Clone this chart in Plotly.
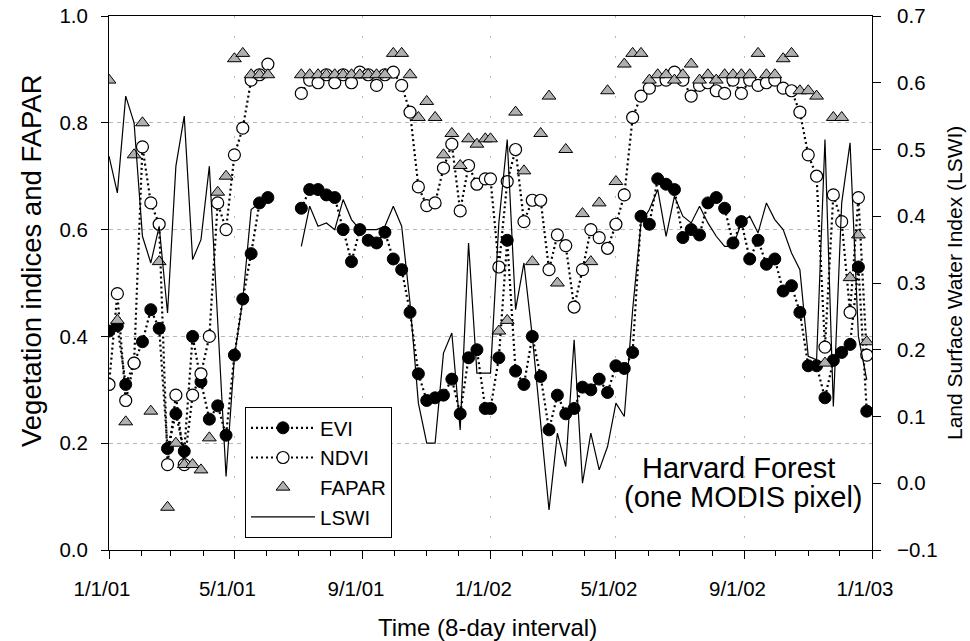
import plotly.graph_objects as go
import pandas as pd

# 8-day MODIS composites, 46 per year
dates01 = pd.date_range("2001-01-01", periods=46, freq="8D")
dates02 = pd.date_range("2002-01-01", periods=46, freq="8D")
dates = list(dates01) + list(dates02)

evi_2001 = [0.41, 0.42, 0.31, 0.35, 0.39, 0.45, 0.415, 0.19, 0.255, 0.185,
            0.40, 0.315, 0.245, 0.27, 0.215, 0.365, 0.47, 0.555, 0.65, 0.66,
            None, None, None, 0.64, 0.675, 0.675, 0.665, 0.66, 0.60, 0.54,
            0.60, 0.58, 0.575, 0.595, 0.545, 0.525, 0.445, 0.33, 0.28, 0.285,
            0.29, 0.32, 0.255, 0.36, 0.375, 0.265]
evi_2002 = [0.265, 0.36, 0.58, 0.335, 0.31, 0.40, 0.325, 0.225, 0.29, 0.255,
            0.265, 0.305, 0.30, 0.32, 0.295, 0.345, 0.34, 0.37, 0.625, 0.61,
            0.695, 0.685, 0.675, 0.585, 0.60, 0.59, 0.65, 0.66, 0.64, 0.575,
            0.615, 0.545, 0.58, 0.535, 0.545, 0.485, 0.495, 0.445, 0.345, 0.345,
            0.285, 0.355, 0.37, 0.385, 0.53, 0.26]

ndvi_2001 = [0.31, 0.48, 0.28, 0.35, 0.755, 0.65, 0.61, 0.16, 0.29, 0.16,
             0.29, 0.33, 0.40, 0.65, 0.60, 0.74, 0.79, 0.88, 0.89, 0.91,
             None, None, None, 0.855, 0.88, 0.875, 0.89, 0.875, 0.89, 0.875,
             0.895, 0.89, 0.87, 0.89, 0.895, 0.87, 0.82, 0.68, 0.645, 0.65,
             0.715, 0.76, 0.635, 0.72, 0.685, 0.695]
ndvi_2002 = [0.695, 0.53, 0.69, 0.75, 0.615, 0.655, 0.655, 0.525, 0.59, 0.57,
             0.455, 0.525, 0.60, 0.585, 0.565, 0.61, 0.665, 0.81, 0.85, 0.865,
             0.88, 0.88, 0.895, 0.88, 0.85, 0.87, 0.875, 0.86, 0.855, 0.88,
             0.855, 0.88, 0.87, 0.875, 0.88, 0.865, 0.86, 0.82, 0.74, 0.70,
             0.38, 0.665, 0.615, 0.445, 0.66, 0.365]

fapar_2001 = [0.88, 0.43, 0.24, 0.74, 0.80, 0.26, 0.54, 0.08, 0.20, 0.16,
              0.16, 0.15, 0.21, 0.67, 0.70, 0.92, 0.93, 0.89, 0.89, 0.89,
              None, None, None, 0.89, 0.89, 0.89, 0.89, 0.89, 0.89, 0.89,
              0.89, 0.89, 0.89, 0.89, 0.93, 0.93, 0.89, 0.81, 0.84, 0.81,
              0.74, 0.78, 0.72, 0.77, 0.76, 0.77]
fapar_2002 = [0.77, 0.41, 0.43, 0.82, 0.71, 0.54, 0.78, 0.85, 0.50, 0.75,
              None, 0.63, 0.54, 0.65, 0.86, 0.69, 0.91, 0.93, 0.93, 0.88,
              0.89, 0.89, 0.88, 0.89, 0.91, 0.88, 0.89, 0.88, 0.89, 0.89,
              0.89, 0.89, 0.93, 0.89, 0.89, 0.92, 0.93, 0.86, 0.86, 0.85,
              0.35, 0.81, 0.81, 0.51, 0.59, 0.39]

lswi_2001 = [0.49, 0.435, 0.58, 0.54, 0.37, 0.33, 0.385, 0.255, 0.475, 0.55,
             0.335, 0.365, 0.475, 0.24, 0.01, 0.19, 0.275, 0.41, 0.42, 0.43,
             None, None, None, 0.355, 0.415, 0.385, 0.39, 0.38, 0.425, 0.395,
             0.38, 0.38, 0.38, 0.385, 0.415, 0.385, 0.27, 0.12, 0.06, 0.06,
             0.195, 0.225, 0.08, 0.36, 0.165, 0.165]
lswi_2002 = [0.165, 0.39, 0.515, 0.26, 0.33, 0.22, 0.095, -0.04, 0.075, 0.025,
             0.215, 0.0, 0.075, 0.02, 0.055, 0.12, 0.10, 0.26, 0.39, 0.41,
             0.44, 0.37, 0.43, 0.40, 0.39, 0.415, 0.39, 0.37, 0.355, 0.355,
             0.39, 0.40, 0.375, 0.42, 0.395, 0.38, 0.345, 0.32, 0.19, 0.185,
             0.515, 0.115, 0.42, 0.51, 0.22, 0.155]

FONT = "Arial, Liberation Sans, sans-serif"

# plot box in page pixels
X0, X1, Y0, Y1 = 109, 872, 16, 550


def px(x):
    return (x - X0) / (X1 - X0)


def py(y):
    return (Y1 - y) / (Y1 - Y0)


fig = go.Figure()
fig.add_trace(go.Scatter(
    x=dates, y=evi_2001 + evi_2002, name="EVI", mode="lines+markers",
    line=dict(color="black", width=2.2, dash="2px,3px"),
    marker=dict(symbol="circle", size=12, color="black", line=dict(color="black", width=1)),
))
fig.add_trace(go.Scatter(
    x=dates, y=ndvi_2001 + ndvi_2002, name="NDVI", mode="lines+markers",
    line=dict(color="black", width=2.2, dash="2px,3px"),
    marker=dict(symbol="circle", size=12, color="white", line=dict(color="black", width=1.2)),
))
fig.add_trace(go.Scatter(
    x=dates, y=fapar_2001 + fapar_2002, name="FAPAR", mode="markers",
    marker=dict(symbol="triangle-up", size=12, color="#b0b0b0", line=dict(color="black", width=1)),
))
fig.add_trace(go.Scatter(
    x=dates, y=lswi_2001 + lswi_2002, name="LSWI", mode="lines", yaxis="y2",
    line=dict(color="black", width=1.2),
))

def label(text, x, y, size, angle=0):
    fig.add_annotation(text=text, x=px(x), y=py(y), xref="paper", yref="paper",
                       xanchor="center", yanchor="middle", showarrow=False,
                       textangle=angle, font=dict(family=FONT, size=size, color="black"))

label("Harvard Forest", 738, 468, 29)
label("(one MODIS pixel)", 743, 497, 29)
label("Vegetation indices and FAPAR", 31, 261, 27.5, -90)
label("Land Surface Water Index (LSWI)", 954, 283, 21, -90)
label("Time (8-day interval)", 487, 627, 24)

fig.update_layout(
    width=970, height=641,
    margin=dict(l=X0, r=970 - X1, t=Y0, b=641 - Y1),
    paper_bgcolor="white", plot_bgcolor="white",
    font=dict(family=FONT, color="black", size=20.5),
    showlegend=True,
    legend=dict(x=px(245), y=py(407), xanchor="left", yanchor="top",
                bordercolor="black", borderwidth=1, bgcolor="white",
                font=dict(family=FONT, size=20.5), itemwidth=64, tracegroupgap=0),
    xaxis=dict(
        type="date", range=["2001-01-01", "2003-01-01"],
        tick0="2001-01-01", dtick="M4", tickformat="%-m/%-d/%y",
        ticks="outside", ticklen=8, tickcolor="black", ticklabelstandoff=12,
        ticklabelshift=-7, ticklabeloverflow="allow",
        minor=dict(dtick="M1", ticks="outside", ticklen=4.5, tickcolor="black", showgrid=False),
        showline=True, linecolor="black", linewidth=1, mirror=True,
        showgrid=True, gridcolor="#b8b8b8", griddash="2px,18px", gridwidth=1,
        zeroline=False, automargin=False,
    ),
    yaxis=dict(
        range=[0, 1], dtick=0.2, tickformat=".1f",
        ticks="outside", ticklen=7, tickcolor="black", ticklabelstandoff=9,
        ticklabeloverflow="allow",
        showline=True, linecolor="black", linewidth=1,
        showgrid=True, gridcolor="#b8b8b8", griddash="4px,4px", gridwidth=1,
        zeroline=False, automargin=False,
    ),
    yaxis2=dict(
        overlaying="y", side="right", range=[-0.1, 0.7], dtick=0.1, tickformat=".1f",
        ticks="outside", ticklen=8, tickcolor="black", ticklabelstandoff=12,
        ticklabeloverflow="allow",
        showline=True, linecolor="black", linewidth=1,
        showgrid=False, zeroline=False, automargin=False,
    ),
)

# drop the default page margin so the 970x641 figure fills the window exactly
fig.write_html("out.html", config={"displayModeBar": False},
               post_script="document.body.style.margin = '0px';")
